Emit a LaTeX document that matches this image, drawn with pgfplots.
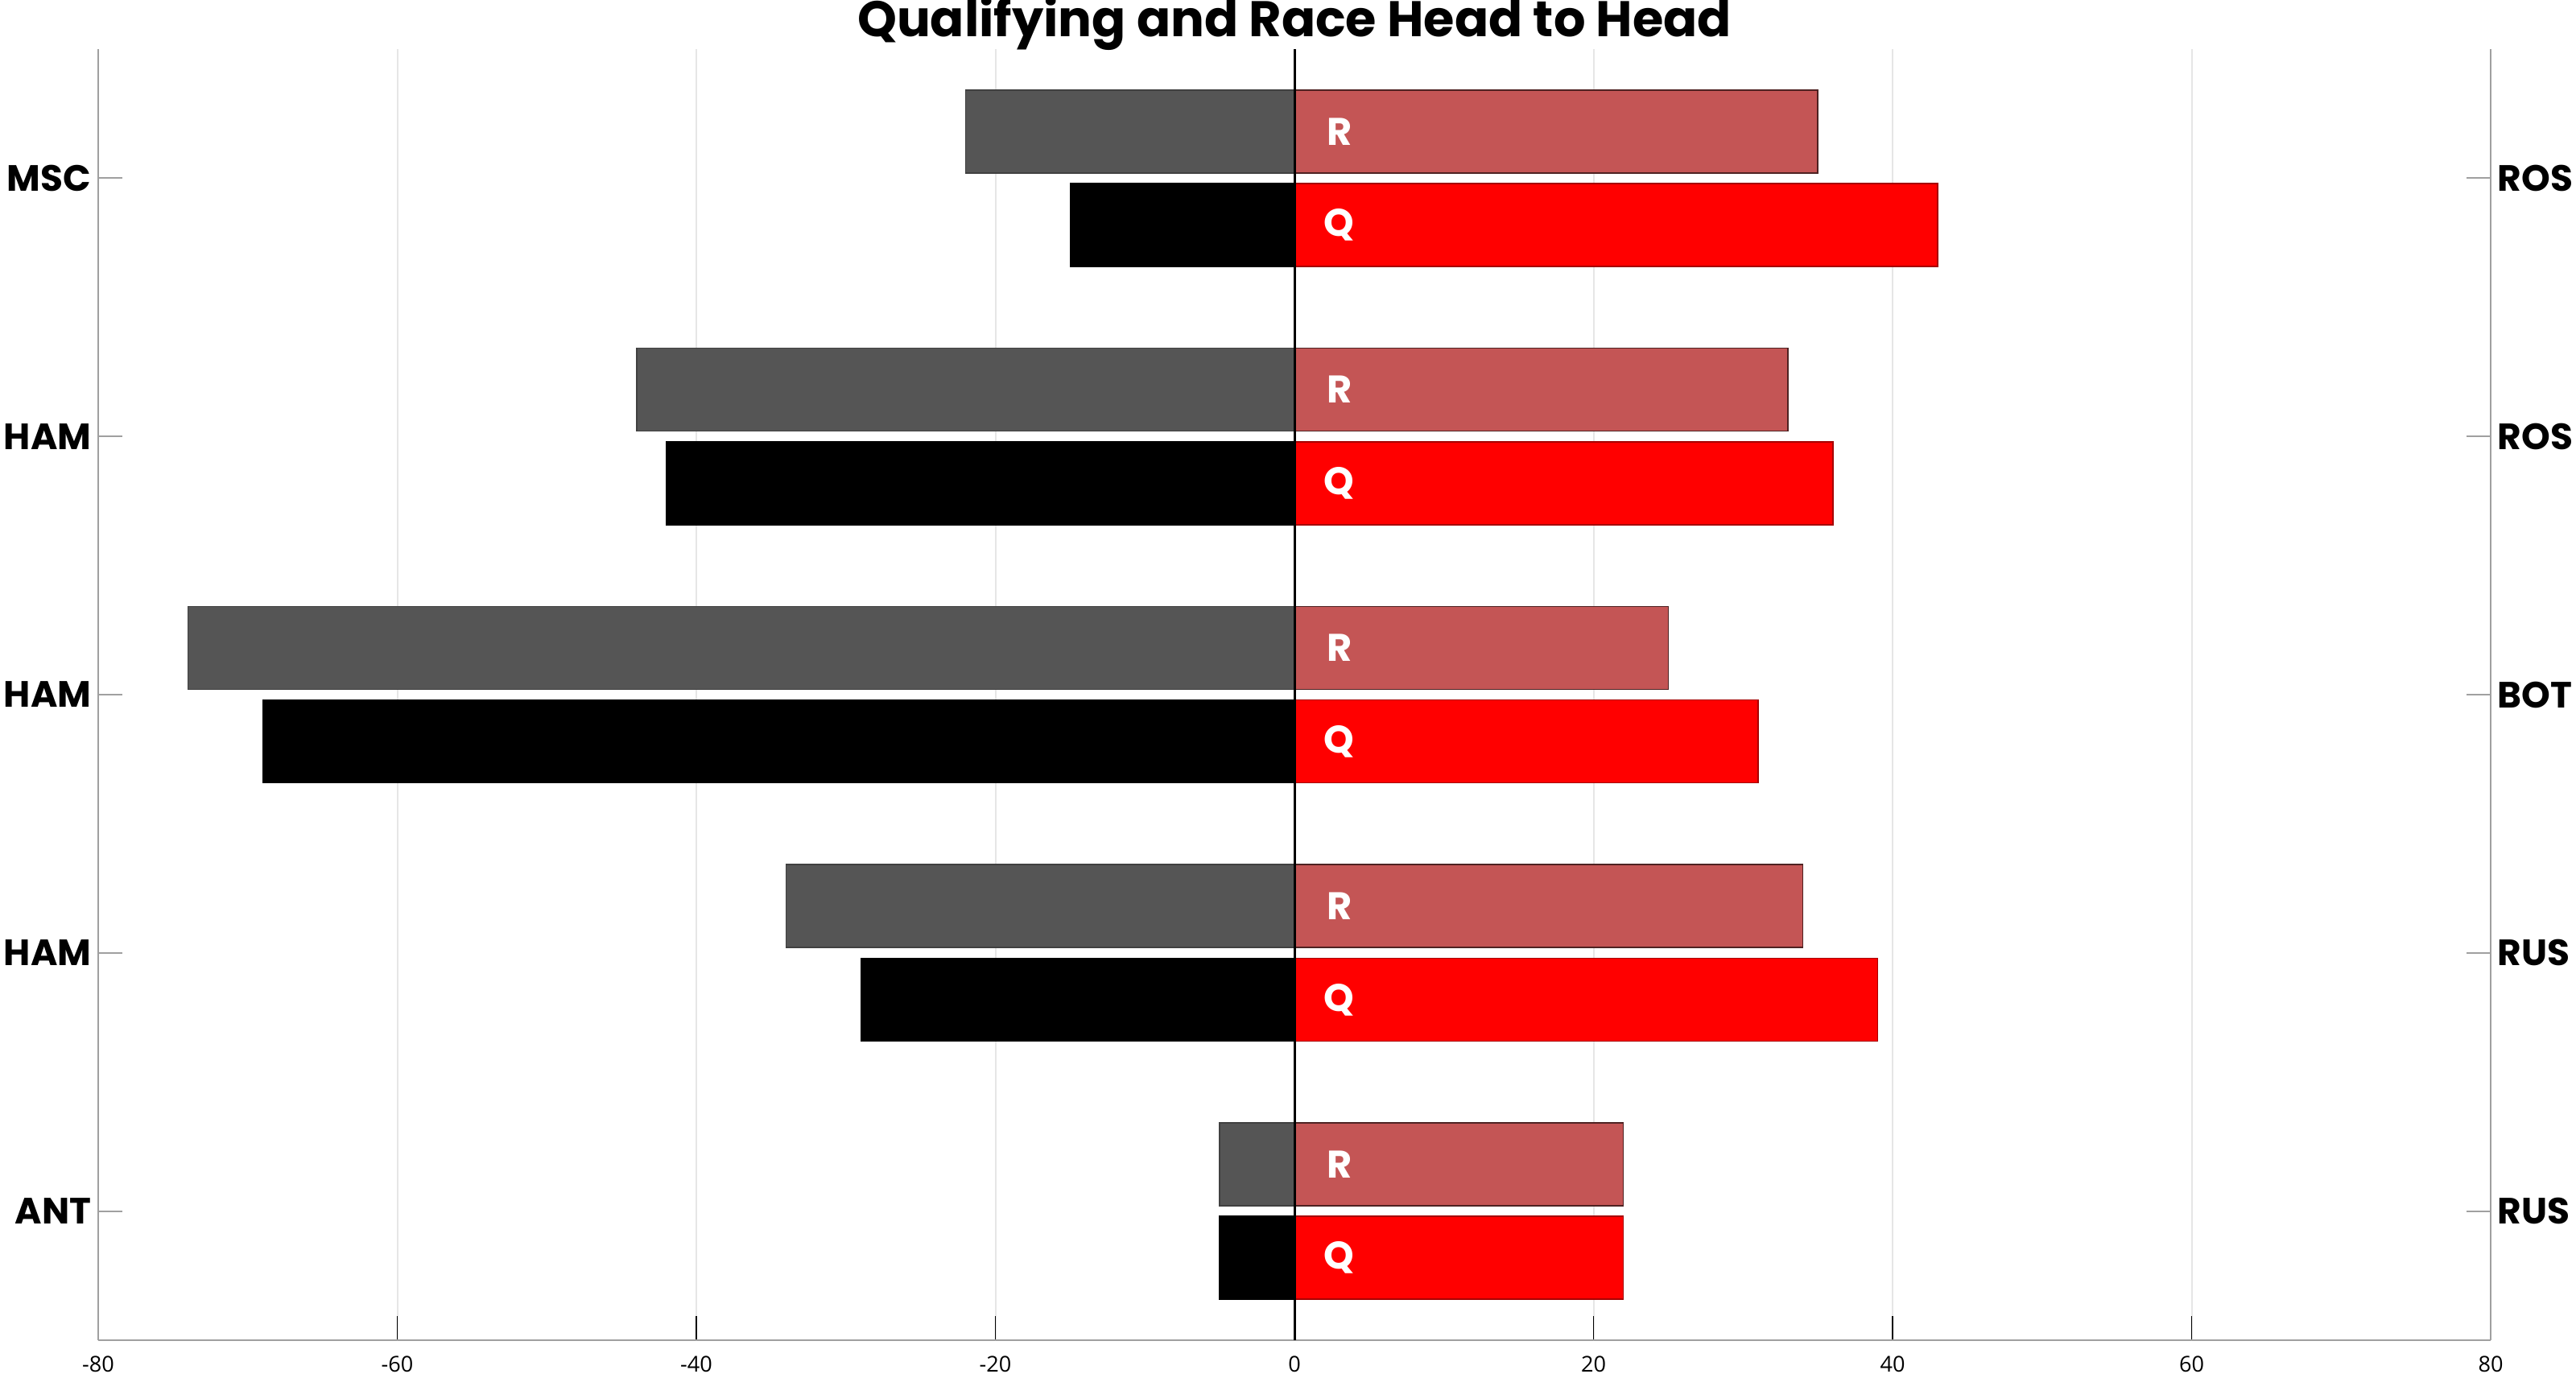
\documentclass[border=0pt]{standalone}
\usepackage{fontspec}
\setmainfont{Open Sans}
\newfontfamily\pop{Poppins}
\usepackage{pgfplots}
\pgfplotsset{compat=1.18}
\definecolor{rgray}{HTML}{555555}
\definecolor{rlred}{HTML}{C45555}
\definecolor{qred}{HTML}{FF0000}
\definecolor{spinec}{HTML}{A0A0A0}
\definecolor{gridc}{HTML}{E6E6E6}
\tikzset{barlbl/.style={text=white, font=\pop\bfseries\fontsize{12}{13}\selectfont}}
\begin{document}
\begin{tikzpicture}[x=1bp,y=1bp]
\begin{axis}[
  at={(30.5bp,10.25bp)}, anchor=south west,
  scale only axis, width=743bp, height=401bp,
  xmin=-80, xmax=80, ymin=0.5, ymax=5.5, enlargelimits=false,
  axis x line=bottom, axis y line=left,
  axis line style={-, spinec, line width=0.5bp},
  xtick={-80,-60,...,80},
  ytick={1,2,3,4,5}, yticklabels={ANT,HAM,HAM,HAM,MSC},
  xmajorgrids, major grid style={gridc, line width=0.5bp},
  tick align=inside, major tick length=7.5bp,
  xtick style={black, line width=0.3bp},
  ytick style={spinec, line width=0.5bp},
  /pgf/number format/assume math mode=true,
  xticklabel style={font=\fontsize{6.8}{7}\selectfont, anchor=base, yshift=-9.8bp},
  yticklabel style={font=\pop\bfseries\fontsize{11.4}{12}\selectfont, inner sep=0pt, anchor=east, xshift=-2bp},
  clip=false,
]
\addplot[xbar, bar width=0.321, bar shift=0, fill=rgray, draw=black!75, line width=0.4bp]
  coordinates {(-22,5.181) (-44,4.181) (-74,3.181) (-34,2.181) (-5,1.181)};
\addplot[xbar, bar width=0.321, bar shift=0, fill=black, draw=black, line width=0.4bp]
  coordinates {(-15,4.819) (-42,3.819) (-69,2.819) (-29,1.819) (-5,0.819)};
\addplot[xbar, bar width=0.321, bar shift=0, fill=rlred, draw=black!60!rlred, line width=0.4bp]
  coordinates {(35,5.181) (33,4.181) (25,3.181) (34,2.181) (22,1.181)};
\addplot[xbar, bar width=0.321, bar shift=0, fill=qred, draw=black!35!qred, line width=0.4bp]
  coordinates {(43,4.819) (36,3.819) (31,2.819) (39,1.819) (22,0.819)};
\addplot[black, line width=0.75bp] coordinates {(0,0.5) (0,5.5)};
\node[barlbl] at (axis cs:3,5.181) {R};
\node[barlbl] at (axis cs:3,4.819) {Q};
\node[barlbl] at (axis cs:3,4.181) {R};
\node[barlbl] at (axis cs:3,3.819) {Q};
\node[barlbl] at (axis cs:3,3.181) {R};
\node[barlbl] at (axis cs:3,2.819) {Q};
\node[barlbl] at (axis cs:3,2.181) {R};
\node[barlbl] at (axis cs:3,1.819) {Q};
\node[barlbl] at (axis cs:3,1.181) {R};
\node[barlbl] at (axis cs:3,0.819) {Q};
\node[font=\pop\bfseries\fontsize{15.6}{17}\selectfont, anchor=base, inner sep=0pt, yshift=4bp] at (rel axis cs:0.5,1) {Qualifying and Race Head to Head};
\end{axis}
\begin{axis}[
  at={(30.5bp,10.25bp)}, anchor=south west,
  scale only axis, width=743bp, height=401bp,
  xmin=-80, xmax=80, ymin=0.5, ymax=5.5, enlargelimits=false,
  axis x line=none, axis y line=right,
  axis line style={-, spinec, line width=0.5bp},
  ytick={1,2,3,4,5}, yticklabels={RUS,RUS,BOT,ROS,ROS},
  tick align=inside, major tick length=7.5bp,
  ytick style={spinec, line width=0.5bp},
  yticklabel style={font=\pop\bfseries\fontsize{11.4}{12}\selectfont, inner sep=0pt, anchor=west, xshift=2bp},
]
\end{axis}
\pgfresetboundingbox
\path (0,0) rectangle (800,426.5);
\end{tikzpicture}
\end{document}
